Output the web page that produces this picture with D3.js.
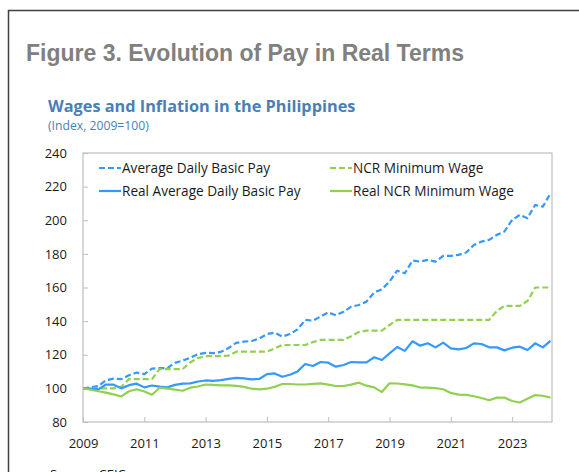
<!DOCTYPE html>
<html>
<head>
<meta charset="utf-8">
<script src="https://cdn.jsdelivr.net/npm/d3@7"></script>
<style>
  html, body { margin: 0; padding: 0; background: #fff; }
  #box { width: 579px; height: 472px; }
</style>
</head>
<body>
<div id="box"></div>
<script>
// data, quarterly from 2009 Q1 (index, 2009=100)
const startYear = 2009;
const quarters = d3.range(62).map(i => startYear + i / 4);

const avgPay = [100, 100.6, 101.4, 104.8, 105.8, 105.5, 107.8, 109.4, 108.5, 111.8,
  112, 112, 115.2, 116.5, 118.2, 120.3, 121.1, 121, 121.7, 124,
  127.1, 127.8, 128.2, 129.6, 132.3, 133.1, 130.8, 132.3, 135.1, 140.7,
  140.3, 142.7, 145.2, 143.5, 145.6, 148.6, 149.6, 151.6, 157.1, 158.9,
  163.5, 170, 168.5, 176, 175.4, 176.4, 175.4, 178.8, 178.8, 179.4,
  180.8, 185.3, 187.3, 188.3, 191.3, 193.3, 200.2, 203.2, 201.2, 209.1,
  208.1, 216];

const ncrMin = [100, 100, 100, 100, 100, 101, 105.5, 105.5, 105.5, 105.5,
  111.5, 111.5, 111.5, 111.5, 115.5, 118, 119.2, 119.2, 119.2, 119.5,
  121.8, 121.8, 121.8, 121.8, 121.8, 123.8, 125.8, 125.8, 125.8, 125.8,
  127.5, 128.8, 128.8, 128.8, 128.8, 131, 133.5, 134.3, 134.3, 134.3,
  137.7, 140.7, 140.7, 140.7, 140.7, 140.7, 140.7, 140.7, 140.7, 140.7,
  140.7, 140.7, 140.7, 140.7, 146, 149.1, 149.1, 149.1, 152, 160,
  160, 160];

const realAvgPay = [100, 99.8, 99.4, 102.3, 102.2, 100, 101.9, 102.8, 100.6, 101.7,
  101, 100.6, 102.1, 102.8, 103, 104.1, 104.7, 104.5, 104.9, 105.7,
  106.2, 105.9, 105.4, 105.6, 108.5, 108.9, 106.9, 108.1, 110.1, 114.5,
  113.3, 115.7, 115.3, 112.9, 113.9, 115.7, 115.5, 115.5, 118.5, 116.9,
  120.8, 124.6, 122.3, 128, 125.4, 126.8, 124.4, 127.2, 123.8, 123.2,
  124, 126.8, 126.4, 124.4, 124.4, 122.6, 124.2, 124.8, 122.8, 126.8,
  124.4, 128.2];

const realNcrMin = [100, 99.2, 98.3, 97.5, 96.4, 95.2, 98.3, 99.5, 98.1, 96.2,
  100.4, 99.8, 99.3, 98.6, 100.4, 101.1, 102.3, 102.1, 101.8, 101.8,
  101.5, 100.9, 99.8, 99.4, 99.8, 100.9, 102.6, 102.6, 102.3, 102.3,
  102.7, 103, 102.2, 101.4, 101.4, 102.2, 103.4, 101.6, 100.6, 97.8,
  103, 102.9, 102.4, 101.8, 100.5, 100.4, 100.1, 99.5, 97.3, 96.3,
  96.1, 95.3, 94.3, 92.9, 94.5, 94.5, 92.5, 91.6, 93.8, 96,
  95.6, 94.5];

const yTicks = [80, 100, 120, 140, 160, 180, 200, 220, 240];
const xTicks = [2009, 2011, 2013, 2015, 2017, 2019, 2021, 2023];

const series = [
  { name: 'Average Daily Basic Pay', values: avgPay, color: '#3399ff', dash: '6,3' },
  { name: 'NCR Minimum Wage', values: ncrMin, color: '#92d050', dash: '6,3' },
  { name: 'Real Average Daily Basic Pay', values: realAvgPay, color: '#3399ff', dash: null },
  { name: 'Real NCR Minimum Wage', values: realNcrMin, color: '#92d050', dash: null }
];

const width = 579;
const height = 472;
const padLeft = 83;
const padRight = 27;
const padTop = 153;
const padBottom = 50;
const innerWidth = width - padLeft - padRight;
const innerHeight = height - padTop - padBottom;

const svg = d3.select('#box').append('svg')
  .attr('width', width)
  .attr('height', height)
  .style('display', 'block')
  .attr('viewBox', `0 0 ${width} ${height}`);

// outer frame (top + left edge)
svg.append('path')
  .attr('d', `M8.5,${height} V10.5 H${width}`)
  .attr('fill', 'none')
  .attr('stroke', '#404040')
  .attr('stroke-width', 1.5);

svg.append('text')
  .attr('x', 26)
  .attr('y', 61)
  .style('font-family', '"Liberation Sans", Arial, sans-serif')
  .style('font-weight', 'bold')
  .style('font-size', '23px')
  .style('fill', '#808080')
  .text('Figure 3. Evolution of Pay in Real Terms');

svg.append('text')
  .attr('x', 48)
  .attr('y', 112)
  .style('font-family', '"Open Sans", sans-serif')
  .style('font-weight', 'bold')
  .style('font-size', '16.3px')
  .style('fill', '#4a7fb5')
  .text('Wages and Inflation in the Philippines');

svg.append('text')
  .attr('x', 48)
  .attr('y', 130)
  .style('font-family', '"Open Sans", sans-serif')
  .style('font-size', '12.2px')
  .style('fill', '#4a7fb5')
  .text('(Index, 2009=100)');

const x = d3.scaleLinear().domain([2009, 2024.3]).range([0, innerWidth]);
const y = d3.scaleLinear().domain([80, 240]).range([innerHeight, 0]);

const pad = svg.append('g')
  .attr('transform', `translate(${padLeft}, ${padTop})`);

// axes, ticks point inward
const yAxis = pad.append('g')
  .call(d3.axisLeft(y).tickValues(yTicks).tickSize(-5).tickPadding(16));
const xAxis = pad.append('g')
  .attr('transform', `translate(0, ${innerHeight})`)
  .call(d3.axisBottom(x).tickValues(xTicks).tickFormat(d3.format('d')).tickSize(-5).tickPadding(17));

[yAxis, xAxis].forEach(a => {
  a.select('.domain').remove();
  a.selectAll('.tick line').attr('stroke', '#bfbfbf');
  a.selectAll('.tick text')
    .style('font-family', '"Open Sans", sans-serif')
    .style('font-size', '13px')
    .style('fill', '#1a1a1a');
});

pad.append('rect')
  .attr('x', 0)
  .attr('y', 0)
  .attr('width', innerWidth)
  .attr('height', innerHeight)
  .attr('fill', 'none')
  .attr('stroke', '#bfbfbf')
  .attr('stroke-width', 1.2);

const line = d3.line()
  .x((d, i) => x(quarters[i]))
  .y(d => y(d));

pad.selectAll('.series').data(series)
  .join('path')
  .attr('class', 'series')
  .attr('d', d => line(d.values))
  .attr('fill', 'none')
  .attr('stroke', d => d.color)
  .attr('stroke-width', 2.2)
  .attr('stroke-dasharray', d => d.dash)
  .attr('stroke-linejoin', 'round');

// legend, two columns
const legend = pad.selectAll('.legend').data(series)
  .join('g')
  .attr('class', 'legend')
  .attr('transform', (d, i) => `translate(${i % 2 === 0 ? 16 : 247}, ${i < 2 ? 15 : 38})`);

legend.append('line')
  .attr('x1', 0)
  .attr('x2', 22)
  .attr('y1', 0)
  .attr('y2', 0)
  .attr('stroke', d => d.color)
  .attr('stroke-width', 2.2)
  .attr('stroke-dasharray', d => d.dash);

legend.append('text')
  .attr('x', 23)
  .attr('y', 4.8)
  .style('font-family', '"Open Sans", sans-serif')
  .style('font-size', '13.6px')
  .style('fill', '#1a1a1a')
  .text(d => d.name);

// source line runs off the bottom edge, as in the original crop
svg.append('text')
  .attr('x', 50)
  .attr('y', 479)
  .style('font-family', '"Open Sans", sans-serif')
  .style('font-size', '13px')
  .style('fill', '#1a1a1a')
  .text('Source: CEIC');
</script>
</body>
</html>
